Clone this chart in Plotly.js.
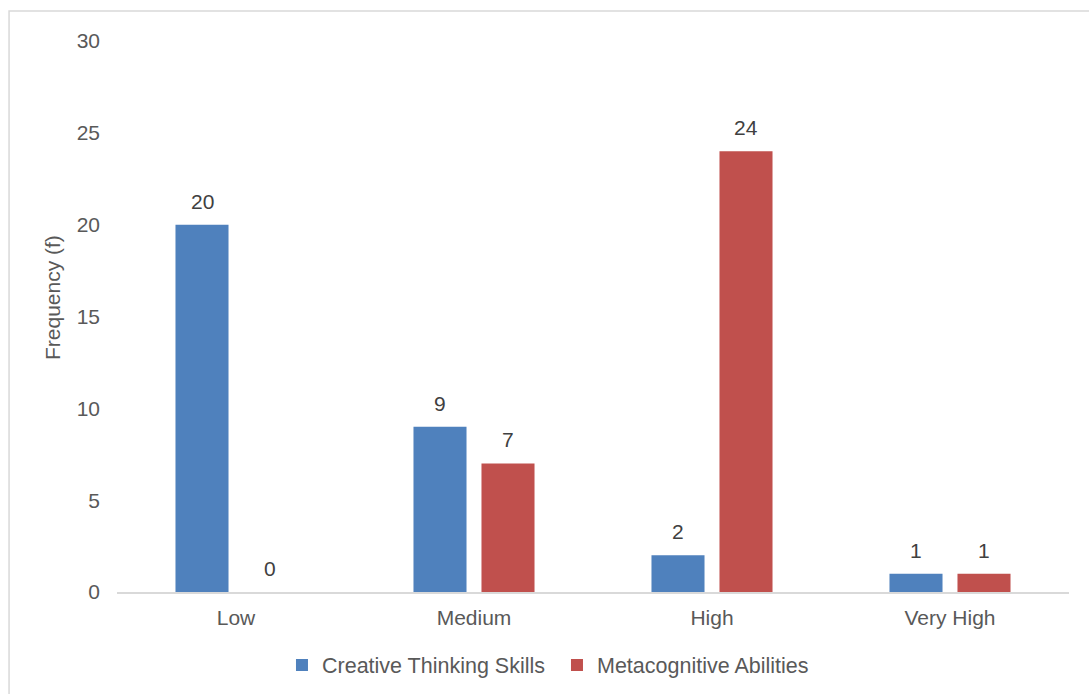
<!DOCTYPE html>
<html>
<head>
<meta charset="utf-8">
<script src="https://cdn.plot.ly/plotly-3.0.1.min.js"></script>
<style>
html,body{margin:0;padding:0;background:#fff;}
#chart{width:1089px;height:694px;}
</style>
</head>
<body>
<div id="chart"></div>
<script>
const categories = ["Low", "Medium", "High", "Very High"];
const creativeThinking = [20, 9, 2, 1];
const metacognitive = [0, 7, 24, 1];
const seriesNames = ["Creative Thinking Skills", "Metacognitive Abilities"];
const yTicks = [0, 5, 10, 15, 20, 25, 30];
const yTitle = "Frequency (f)";

const FONT = "Liberation Sans, Arial, sans-serif";
const TXT = "#595959";
const LBL = "#404040";
const colors = ["#4F81BD", "#C0504D"];
const seriesValues = [creativeThinking, metacognitive];

const traces = seriesValues.map((vals, i) => ({
  type: "bar", name: seriesNames[i], x: categories, y: vals,
  marker: {color: colors[i]}, cliponaxis: false
}));

// value labels above bars, placed through the axes (offset to each bar of the group)
const barOffsetPx = 34;
const annotations = [];
seriesValues.forEach((vals, i) => {
  vals.forEach((v, j) => {
    annotations.push({
      xref: "x", yref: "y", x: categories[j], y: v,
      xshift: (i === 0 ? -1 : 1) * barOffsetPx, yshift: 10,
      text: String(v), showarrow: false, xanchor: "center", yanchor: "bottom",
      font: {family: FONT, size: 21, color: LBL}
    });
  });
});
annotations.push({
  xref: "paper", yref: "paper", x: -0.0672, y: 0.5336,
  text: yTitle, showarrow: false, textangle: -90,
  xanchor: "center", yanchor: "middle",
  font: {family: FONT, size: 21, color: TXT}
});

const layout = {
  width: 1089, height: 694,
  margin: {l: 117, r: 20, t: 41, b: 102, autoexpand: false},
  paper_bgcolor: "#fff", plot_bgcolor: "#fff",
  font: {family: FONT, size: 21, color: TXT},
  barmode: "group", bargap: 0.4286, bargroupgap: 0.22,
  showlegend: true,
  legend: {orientation: "h", x: 0.1733, xanchor: "left", y: -0.1325, yanchor: "middle",
           entrywidth: 230, entrywidthmode: "pixels",
           font: {family: FONT, size: 21.5, color: TXT}, traceorder: "normal"},
  xaxis: {
    showline: true, linecolor: "#D9D9D9", linewidth: 1.5,
    ticks: "", showgrid: false, zeroline: false, ticklabelstandoff: 6,
    tickfont: {family: FONT, size: 21, color: TXT}, automargin: false
  },
  yaxis: {
    range: [0, 30], tickvals: yTicks, showgrid: false, zeroline: false, showline: false,
    ticks: "", ticklabelstandoff: 16,
    tickfont: {family: FONT, size: 21, color: TXT}, automargin: false
  },
  annotations: annotations,
  shapes: [{
    type: "rect", xref: "paper", yref: "paper", layer: "below",
    x0: -0.1134, x1: 1.03, y0: -0.2, y1: 1.0544,
    line: {color: "#D9D9D9", width: 1.5}, fillcolor: "rgba(0,0,0,0)"
  }]
};

Plotly.newPlot("chart", traces, layout, {displayModeBar: false, staticPlot: true});
</script>
</body>
</html>
